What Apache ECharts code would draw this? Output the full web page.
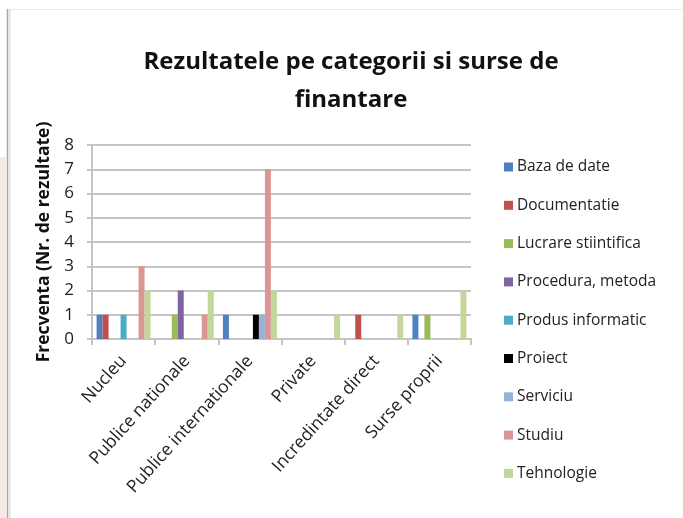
<!DOCTYPE html>
<html>
<head>
<meta charset="utf-8">
<script src="https://cdn.jsdelivr.net/npm/echarts@6/dist/echarts.min.js"></script>
<style>
  html, body { margin: 0; padding: 0; background: #fff; }
  #chart { width: 683px; height: 518px; }
</style>
</head>
<body>
<div id="chart"></div>
<script>
const categories = ['Nucleu', 'Publice nationale', 'Publice internationale', 'Private', 'Incredintate direct', 'Surse proprii']
const seriesNames = ['Baza de date', 'Documentatie', 'Lucrare stiintifica', 'Procedura, metoda', 'Produs informatic', 'Proiect', 'Serviciu', 'Studiu', 'Tehnologie']
const bazaDeDate = [1, 0, 1, 0, 0, 1]
const documentatie = [1, 0, 0, 0, 1, 0]
const lucrareStiintifica = [0, 1, 0, 0, 0, 1]
const proceduraMetoda = [0, 2, 0, 0, 0, 0]
const produsInformatic = [1, 0, 0, 0, 0, 0]
const proiect = [0, 0, 1, 0, 0, 0]
const serviciu = [0, 0, 1, 0, 0, 0]
const studiu = [3, 1, 7, 0, 0, 0]
const tehnologie = [2, 2, 2, 1, 1, 2]
const yTicks = [0, 1, 2, 3, 4, 5, 6, 7, 8]

const values = [bazaDeDate, documentatie, lucrareStiintifica, proceduraMetoda, produsInformatic, proiect, serviciu, studiu, tehnologie]
const colors = ['#4F81BD', '#C0504D', '#9BBB59', '#8064A2', '#4BACC6', '#000000', '#95B3D7', '#D99694', '#C3D69B']

const font = "'Open Sans', 'DejaVu Sans', sans-serif"
const gridColor = '#C4C4C4'

const chart = echarts.init(document.getElementById('chart'), null, { renderer: 'canvas' })

chart.setOption({
  backgroundColor: '#ffffff',
  animation: false,
  color: colors,
  // page frame of the scanned figure
  graphic: [
    { type: 'rect', shape: { x: 0, y: 157, width: 6, height: 361 }, style: { fill: '#F9E8E8' }, silent: true },
    { type: 'line', shape: { x1: 7, y1: 9.5, x2: 683, y2: 9.5 }, style: { stroke: '#EAEAEA', lineWidth: 1 }, silent: true },
    { type: 'line', shape: { x1: 7.5, y1: 9, x2: 7.5, y2: 518 }, style: { stroke: '#A8A8A8', lineWidth: 1.5 }, silent: true },
    { type: 'line', shape: { x1: 9.5, y1: 9, x2: 9.5, y2: 518 }, style: { stroke: '#E2E2E2', lineWidth: 2 }, silent: true },
  ],
  title: {
    text: 'Rezultatele pe categorii si surse de\nfinantare',
    left: 346,
    top: 38,
    textAlign: 'center',
    textStyle: {
      fontFamily: font,
      fontSize: 24,
      fontWeight: 'bold',
      color: '#111',
      lineHeight: 38,
    },
  },
  legend: {
    orient: 'vertical',
    left: 499,
    top: 154,
    itemWidth: 9,
    itemHeight: 9,
    itemGap: 22.3,
    icon: 'rect',
    textStyle: { fontFamily: font, fontSize: 15.5, color: '#222', padding: [0, 0, 0, -1] },
    data: seriesNames,
  },
  grid: { left: 92, right: 212, top: 145, bottom: 179 },
  xAxis: {
    type: 'category',
    data: categories,
    axisLine: { lineStyle: { color: gridColor, width: 2 } },
    axisTick: { show: true, length: 6, lineStyle: { color: gridColor, width: 2 } },
    axisLabel: {
      rotate: 48,
      fontFamily: font,
      fontSize: 17.5,
      color: '#222',
      margin: 19,
      interval: 0,
    },
  },
  yAxis: {
    type: 'value',
    min: 0,
    max: 8,
    interval: 1,
    name: 'Frecventa (Nr. de rezultate)',
    nameLocation: 'middle',
    nameGap: 33,
    nameTextStyle: { fontFamily: font, fontSize: 17.5, fontWeight: 'bold', color: '#111' },
    axisLine: { show: true, lineStyle: { color: gridColor, width: 2 } },
    axisTick: { show: true, length: 5, lineStyle: { color: gridColor, width: 2 } },
    axisLabel: {
      fontFamily: font,
      fontSize: 17,
      color: '#222',
      margin: 18,
      formatter: v => (yTicks.includes(v) ? String(v) : ''),
    },
    splitLine: { lineStyle: { color: gridColor, width: 2 } },
  },
  series: seriesNames.map((name, i) => ({
    name,
    type: 'bar',
    data: values[i],
    barWidth: 6,
    barGap: '0%',
    barCategoryGap: '14%',
    itemStyle: { color: colors[i] },
  })),
})
</script>
</body>
</html>
